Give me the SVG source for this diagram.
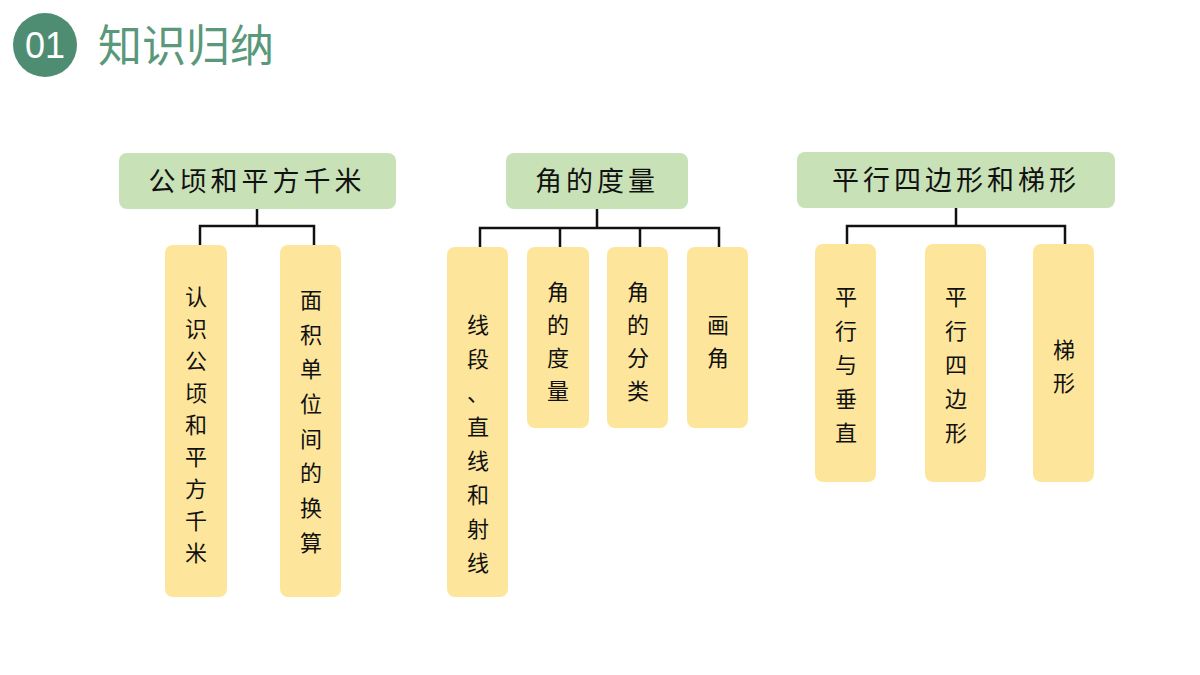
<svg xmlns="http://www.w3.org/2000/svg" width="1200" height="675" viewBox="0 0 1200 675">
<style>
.h{fill:#c8e1b7}
.c{fill:#fde69c}
.t{font-family:"Noto Sans CJK SC",sans-serif;font-size:27px;fill:#111;text-anchor:middle}
.v{font-family:"Noto Sans CJK SC",sans-serif;font-size:22px;fill:#111;text-anchor:middle}
.l{stroke:#111;stroke-width:2.5;fill:none}
</style>
<rect width="1200" height="675" fill="#fff"/>
<g id="title">
<circle cx="45" cy="45" r="32" fill="#4e8d72"/>
<text x="45" y="58" font-family="Liberation Sans,sans-serif" font-size="36" fill="#fff" text-anchor="middle">01</text>
<text x="98" y="62" font-family="Noto Sans CJK SC,sans-serif" font-size="44" fill="#5a987c">知识归纳</text>
</g>
<g id="connectors" class="l">
<path d="M257 209V226M200 246V226H314V246"/>
<path d="M597 209V228M480 247V228H719V247M560 228V247M640 228V247"/>
<path d="M956 208V226M847 244V226H1065V244"/>
</g>
<g id="n1"><rect class="h" x="119" y="153" width="277" height="56" rx="8"/><text class="t" x="257" y="191" letter-spacing="4">公顷和平方千米</text></g>
<g id="n1a" class="v"><rect class="c" x="165" y="245" width="62" height="352" rx="8"/>
<text x="196" y="305">认</text><text x="196" y="337">识</text><text x="196" y="369">公</text><text x="196" y="401">顷</text><text x="196" y="433">和</text><text x="196" y="465">平</text><text x="196" y="497">方</text><text x="196" y="529">千</text><text x="196" y="561">米</text></g>
<g id="n1b" class="v"><rect class="c" x="280" y="245" width="61" height="352" rx="8"/>
<text x="311" y="308">面</text><text x="311" y="343">积</text><text x="311" y="377">单</text><text x="311" y="412">位</text><text x="311" y="447">间</text><text x="311" y="481">的</text><text x="311" y="516">换</text><text x="311" y="551">算</text></g>
<g id="n2"><rect class="h" x="506" y="153" width="182" height="56" rx="8"/><text class="t" x="597" y="191" letter-spacing="4">角的度量</text></g>
<g id="n2a" class="v"><rect class="c" x="447" y="247" width="61" height="350" rx="8"/>
<text x="478" y="333">线</text><text x="478" y="367">段</text><text x="478" y="401">、</text><text x="478" y="435">直</text><text x="478" y="469">线</text><text x="478" y="503">和</text><text x="478" y="537">射</text><text x="478" y="571">线</text></g>
<g id="n2b" class="v"><rect class="c" x="527" y="247" width="62" height="181" rx="8"/>
<text x="558" y="300">角</text><text x="558" y="333">的</text><text x="558" y="366">度</text><text x="558" y="399">量</text></g>
<g id="n2c" class="v"><rect class="c" x="607" y="247" width="61" height="181" rx="8"/>
<text x="638" y="300">角</text><text x="638" y="333">的</text><text x="638" y="366">分</text><text x="638" y="399">类</text></g>
<g id="n2d" class="v"><rect class="c" x="687" y="247" width="61" height="181" rx="8"/>
<text x="718" y="333">画</text><text x="718" y="366">角</text></g>
<g id="n3"><rect class="h" x="797" y="152" width="318" height="56" rx="8"/><text class="t" x="956" y="190" letter-spacing="4">平行四边形和梯形</text></g>
<g id="n3a" class="v"><rect class="c" x="815" y="244" width="61" height="238" rx="8"/>
<text x="846" y="305">平</text><text x="846" y="339">行</text><text x="846" y="373">与</text><text x="846" y="407">垂</text><text x="846" y="441">直</text></g>
<g id="n3b" class="v"><rect class="c" x="925" y="244" width="61" height="238" rx="8"/>
<text x="956" y="305">平</text><text x="956" y="339">行</text><text x="956" y="373">四</text><text x="956" y="407">边</text><text x="956" y="441">形</text></g>
<g id="n3c" class="v"><rect class="c" x="1033" y="244" width="61" height="238" rx="8"/>
<text x="1064" y="358">梯</text><text x="1064" y="391">形</text></g>
</svg>
